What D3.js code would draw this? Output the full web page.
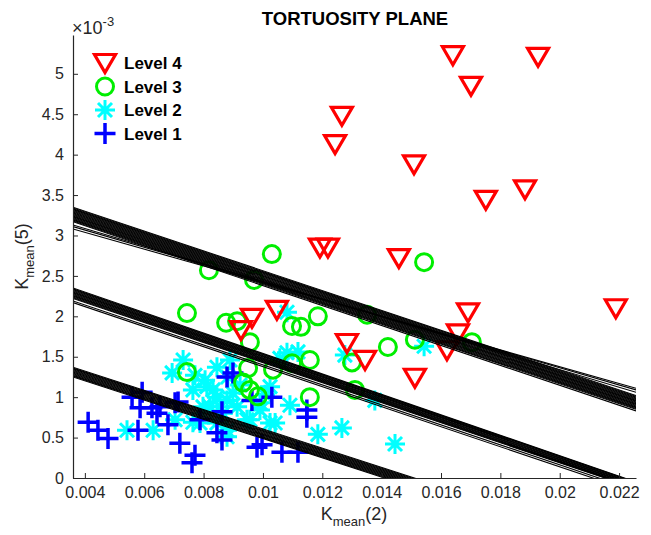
<!DOCTYPE html>
<html>
<head>
<meta charset="utf-8">
<script src="https://cdn.jsdelivr.net/npm/d3@7"></script>
<style>
  body { margin: 0; background: #fff; }
  text { font-family: "Liberation Sans", Arial, sans-serif; }
</style>
</head>
<body>
<div id="chart"></div>
<script>
// values, y in units of 1e-3
const level4X = [0.01640, 0.01927, 0.01701, 0.01266, 0.01243, 0.01509, 0.01883, 0.01751, 0.01192, 0.01219, 0.01458,
  0.01047, 0.00963, 0.00926, 0.01691, 0.02189, 0.01657, 0.01620, 0.01283, 0.01344, 0.01512];
const level4Y = [5.23, 5.21, 4.85, 4.48, 4.13, 3.88, 3.57, 3.44, 2.85, 2.85, 2.72,
  2.08, 1.98, 1.83, 2.05, 2.10, 1.79, 1.58, 1.67, 1.46, 1.24];

const level3X = [0.01030, 0.01543, 0.00818, 0.00970, 0.01351, 0.00744, 0.00876, 0.00913, 0.01098, 0.01128, 0.01185,
  0.00956, 0.01421, 0.01512, 0.01704, 0.00744, 0.00950, 0.01034, 0.01098, 0.01158, 0.00933, 0.00956, 0.00983,
  0.01158, 0.01300, 0.01310];
const level3Y = [2.77, 2.67, 2.57, 2.45, 2.02, 2.04, 1.92, 1.94, 1.88, 1.87, 2.00,
  1.68, 1.62, 1.71, 1.68, 1.31, 1.36, 1.34, 1.42, 1.46, 1.18, 1.09, 1.01,
  1.00, 1.43, 1.09];

const level2X = [0.01081, 0.01543, 0.01276, 0.01081, 0.01118, 0.01057, 0.01377, 0.01266, 0.01445, 0.01185,
  0.00731, 0.00694, 0.00542, 0.00630, 0.00764, 0.00788, 0.00845, 0.00811, 0.00845, 0.00879, 0.00899, 0.00855,
  0.00879, 0.00946, 0.00990, 0.01041, 0.01024, 0.00882, 0.00913, 0.00822, 0.00764, 0.00832, 0.00798, 0.00865,
  0.00845, 0.00879, 0.00956, 0.01024, 0.00990, 0.00771, 0.00805, 0.00923, 0.00889, 0.01007, 0.00704, 0.01091];
const level2Y = [2.05, 1.63, 1.52, 1.55, 1.56, 1.48, 0.96, 0.62, 0.42, 0.54,
  1.46, 1.30, 0.59, 0.59, 0.69, 0.68, 1.37, 1.13, 1.00, 0.96, 1.05, 0.88,
  0.59, 0.72, 0.84, 0.68, 1.13, 1.25, 0.88, 0.88, 1.09, 1.09, 0.88, 0.80,
  0.68, 0.51, 0.72, 0.68, 0.93, 1.27, 1.21, 1.15, 1.46, 1.03, 0.72, 0.90];

const level1X = [0.00411, 0.00444, 0.00478, 0.00559, 0.00593, 0.00586, 0.00626, 0.00643, 0.00704, 0.00714,
  0.00680, 0.00579, 0.00720, 0.00771, 0.00761, 0.00879, 0.00899, 0.00845, 0.00862, 0.00963, 0.01030, 0.00980,
  0.00997, 0.01064, 0.01118, 0.01148, 0.01148, 0.00862, 0.00653, 0.00788];
const level1Y = [0.69, 0.59, 0.49, 1.00, 1.06, 0.87, 0.87, 0.80, 0.93, 0.94,
  0.66, 0.59, 0.43, 0.28, 0.19, 1.25, 1.30, 0.56, 0.47, 0.96, 1.00, 0.38,
  0.41, 0.32, 0.32, 0.75, 0.84, 0.82, 0.88, 0.72];

// boundary lines: value at left (x=0.0036) and right (x=0.02257) ends
const band1Left  = [3.35, 3.34, 3.33, 3.32, 3.31, 3.30, 3.29, 3.28, 3.27, 3.26, 3.25, 3.24, 3.23, 3.22, 3.21, 3.20, 3.19, 3.18, 3.17, 3.13, 3.11, 3.08];
const band1Right = [1.02, 1.01, 1.00, 0.99, 0.98, 0.97, 0.96, 0.95, 0.94, 0.93, 0.92, 0.91, 0.90, 0.89, 0.88, 0.87, 0.86, 0.85, 0.83, 1.06, 1.09, 1.11];
const band2Left  = [2.35, 2.34, 2.33, 2.32, 2.31, 2.30, 2.29, 2.28, 2.27, 2.26, 2.25, 2.24, 2.23, 2.22, 2.19, 2.17];
const band2Right = [-0.05, -0.055, -0.06, -0.07, -0.075, -0.08, -0.09, -0.095, -0.10, -0.11, -0.115, -0.12, -0.125, -0.13, -0.155, -0.18];
const band3Left  = [1.37, 1.36, 1.35, 1.34, 1.33, 1.32, 1.31, 1.30, 1.29, 1.28, 1.27, 1.26, 1.25];
const band3Right = [-0.89, -0.90, -0.91, -0.92, -0.93, -0.94, -0.95, -0.96, -0.97, -0.98, -0.99, -1.00, -1.01];

const xTicks = [0.004, 0.006, 0.008, 0.01, 0.012, 0.014, 0.016, 0.018, 0.02, 0.022];
const yTicks = [0, 0.5, 1, 1.5, 2, 2.5, 3, 3.5, 4, 4.5, 5];
const levelNames = ['Level 4', 'Level 3', 'Level 2', 'Level 1'];

const xDomain = [0.0036, 0.02257];
const W = 651, H = 535;
const plotL = 73, plotR = 636, plotT = 35, plotB = 478;

const svg = d3.select('#chart').append('svg').attr('width', W).attr('height', H);

const x = d3.scaleLinear().domain(xDomain).range([plotL, plotR]);
const y = d3.scaleLinear().domain([0, 5.48]).range([plotB, plotT]);

svg.append('defs').append('clipPath').attr('id', 'plot')
  .append('rect').attr('x', plotL).attr('y', plotT).attr('width', plotR - plotL).attr('height', plotB - plotT);

// marker painters
const markers = {
  'Level 4': (g) => g.append('path').attr('d', 'M-10.5,-8.5L10.5,-8.5L0,9.5Z')
    .attr('fill', 'none').attr('stroke', '#ff0000').attr('stroke-width', 3.2).attr('stroke-linejoin', 'miter'),
  'Level 3': (g) => g.append('circle').attr('r', 8.5)
    .attr('fill', 'none').attr('stroke', '#00ee00').attr('stroke-width', 3),
  'Level 2': (g) => g.append('path')
    .attr('d', 'M0,-10V10M-10,0H10M-7,-7L7,7M-7,7L7,-7')
    .attr('stroke', '#00ffff').attr('stroke-width', 3),
  'Level 1': (g) => g.append('path').attr('d', 'M0,-10.5V10.5M-10.5,0H10.5')
    .attr('stroke', '#0000ff').attr('stroke-width', 3.5),
};

function drawLevel(name, xs, ys) {
  const g = svg.append('g').attr('clip-path', 'url(#plot)');
  xs.forEach((xv, i) => {
    const m = g.append('g').attr('transform', `translate(${x(xv)},${y(ys[i])})`);
    markers[name](m);
  });
}

drawLevel('Level 2', level2X, level2Y);
drawLevel('Level 1', level1X, level1Y);
drawLevel('Level 3', level3X, level3Y);
drawLevel('Level 4', level4X, level4Y);

// boundary bands
const lineG = svg.append('g').attr('clip-path', 'url(#plot)');
[[band1Left, band1Right], [band2Left, band2Right], [band3Left, band3Right]].forEach(([ls, rs]) => {
  ls.forEach((lv, i) => {
    lineG.append('line')
      .attr('x1', x(xDomain[0])).attr('y1', y(lv))
      .attr('x2', x(xDomain[1])).attr('y2', y(rs[i]))
      .attr('stroke', '#000').attr('stroke-width', 1.1);
  });
});

// axes
const axisColor = '#262626';
const gx = svg.append('g').attr('transform', `translate(0,${plotB})`)
  .call(d3.axisBottom(x).tickValues(xTicks).tickFormat(d3.format('~g')).tickSizeInner(-5).tickSizeOuter(0).tickPadding(9));
const gy = svg.append('g').attr('transform', `translate(${plotL},0)`)
  .call(d3.axisLeft(y).tickValues(yTicks).tickFormat(d3.format('~g')).tickSizeInner(-5).tickSizeOuter(0).tickPadding(9));
[gx, gy].forEach(g => {
  g.select('.domain').attr('stroke', axisColor).attr('stroke-width', 1.2);
  g.selectAll('.tick line').attr('stroke', axisColor);
  g.selectAll('.tick text').attr('fill', axisColor).style('font-size', '16px')
    .style('font-family', '"Liberation Sans", Arial, sans-serif');
});

// exponent
const ex = svg.append('text').attr('x', plotL - 1).attr('y', 34).attr('fill', axisColor).style('font-size', '18px');
ex.append('tspan').text('\u00d710');
ex.append('tspan').attr('dy', -8).style('font-size', '13px').text('-3');

// title
svg.append('text').attr('x', 355).attr('y', 25).attr('text-anchor', 'middle')
  .style('font-size', '18.5px').style('font-weight', 'bold').attr('fill', '#000').text('TORTUOSITY PLANE');

// axis labels
const xl = svg.append('text').attr('x', 354).attr('y', 520).attr('text-anchor', 'middle')
  .attr('fill', axisColor).style('font-size', '18px');
xl.append('tspan').text('K');
xl.append('tspan').attr('dy', 6).style('font-size', '13px').text('mean');
xl.append('tspan').attr('dy', -6).text('(2)');

const yl = svg.append('text').attr('transform', `translate(28,${(plotT + plotB) / 2}) rotate(-90)`)
  .attr('text-anchor', 'middle').attr('fill', axisColor).style('font-size', '18px');
yl.append('tspan').text('K');
yl.append('tspan').attr('dy', 6).style('font-size', '13px').text('mean');
yl.append('tspan').attr('dy', -6).text('(5)');

// legend
const legend = svg.append('g');
levelNames.forEach((name, i) => {
  const row = legend.append('g').attr('transform', `translate(105,${63 + i * 23.5})`);
  markers[name](row);
  row.append('text').attr('x', 19).attr('y', 6).style('font-size', '17px').style('font-weight', 'bold')
    .attr('fill', '#000').text(name);
});
</script>
</body>
</html>
